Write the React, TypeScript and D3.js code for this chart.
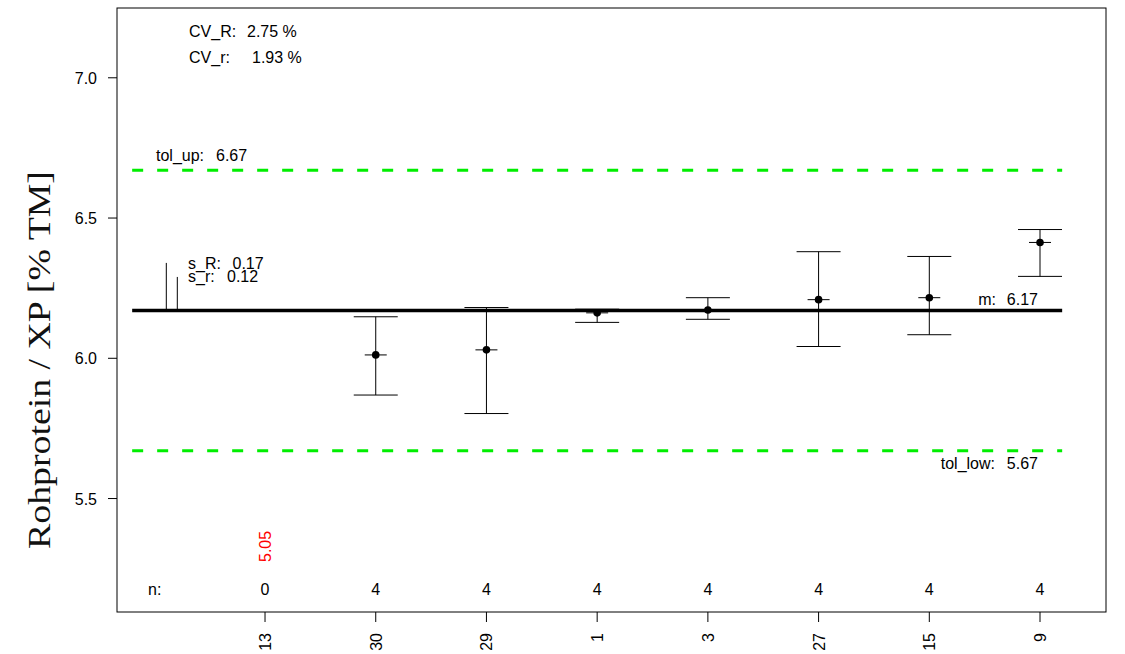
import React from "react";
import * as d3 from "d3";

// Laboratory codes in plotting order, with replicate counts and summary values
const labs = ["13", "30", "29", "1", "3", "27", "15", "9"];
const counts = [0, 4, 4, 4, 4, 4, 4, 4];
const labMeans = [NaN, 6.012, 6.03, 6.162, 6.172, 6.209, 6.216, 6.413];
const labUpper = [NaN, 6.148, 6.181, 6.175, 6.216, 6.38, 6.363, 6.459];
const labLower = [NaN, 5.869, 5.803, 6.128, 6.139, 6.042, 6.084, 6.292];
// values outside the drawn range are printed as text
const outliers = [{ lab: "13", value: 5.05 }];

const yTicks = [5.5, 6.0, 6.5, 7.0];
const meanValue = 6.17;
const tolUp = 6.67;
const tolLow = 5.67;
const sR = 0.17;
const sr = 0.12;
const cvR = 2.75;
const cvr = 1.93;

const W = 1125;
const H = 654;
const left = 117;
const right = 1106;
const top = 8;
const bottom = 612;

const font = "Liberation Sans, Arial, Helvetica, sans-serif";

export default function App() {
  // index 0 holds the "n:" column, labs start at index 1
  const x = d3.scaleLinear().domain([-0.337, 8.596]).range([left, right]);
  const y = d3.scaleLinear().domain([5.0955, 7.2488]).range([bottom, top]);

  const capHalf = 22;
  const tickHalf = 11;
  const lineStart = x(-0.2);
  const lineEnd = x(8.2);

  return (
    <svg
      width={W}
      height={H}
      style={{ position: "absolute", left: 0, top: 0, background: "#fff" }}
      fontFamily={font}
    >
      {/* tolerance limits */}
      {[tolUp, tolLow].map((v, i) => (
        <line
          key={i}
          x1={lineStart}
          x2={lineEnd}
          y1={y(v)}
          y2={y(v)}
          stroke="#00ee00"
          strokeWidth={3}
          strokeDasharray="11 14"
        />
      ))}

      {/* overall mean */}
      <line x1={lineStart} x2={lineEnd} y1={y(meanValue)} y2={y(meanValue)} stroke="#000" strokeWidth={3.5} />

      {/* reproducibility / repeatability bars */}
      <line x1={x(0) + 12} x2={x(0) + 12} y1={y(meanValue)} y2={y(meanValue + sR)} stroke="#000" strokeWidth={1} />
      <line x1={x(0) + 23} x2={x(0) + 23} y1={y(meanValue)} y2={y(meanValue + sr)} stroke="#000" strokeWidth={1} />
      <text x={188} y={y(meanValue + sR) + 6} fontSize={16}>
        s_R:
        <tspan x={232.5}>{sR.toFixed(2)}</tspan>
      </text>
      <text x={188} y={y(meanValue + sR) + 19} fontSize={16}>
        s_r:
        <tspan x={227}>{sr.toFixed(2)}</tspan>
      </text>

      {/* lab error bars */}
      {labs.map((lab, i) => {
        const cx = x(i + 1);
        if (!counts[i] || isNaN(labMeans[i])) return null;
        return (
          <g key={lab} stroke="#000" strokeWidth={1}>
            <line x1={cx} x2={cx} y1={y(labUpper[i])} y2={y(labLower[i])} />
            <line x1={cx - capHalf} x2={cx + capHalf} y1={y(labUpper[i])} y2={y(labUpper[i])} />
            <line x1={cx - capHalf} x2={cx + capHalf} y1={y(labLower[i])} y2={y(labLower[i])} />
            <line x1={cx - tickHalf} x2={cx + tickHalf} y1={y(labMeans[i])} y2={y(labMeans[i])} />
            <circle cx={cx} cy={y(labMeans[i])} r={3.8} fill="#000" stroke="none" />
          </g>
        );
      })}

      {/* out-of-range values */}
      {outliers.map((o) => {
        const cx = x(labs.indexOf(o.lab) + 1);
        return (
          <text
            key={o.lab}
            transform={`translate(${cx + 6},562) rotate(-90)`}
            fontSize={16}
            fill="#ff0000"
          >
            {o.value.toFixed(2)}
          </text>
        );
      })}

      {/* counts row */}
      <text x={148} y={595} fontSize={16}>n:</text>
      {labs.map((lab, i) => (
        <text key={lab} x={x(i + 1)} y={595} fontSize={16} textAnchor="middle">
          {counts[i]}
        </text>
      ))}

      {/* annotations */}
      <text x={189} y={37} fontSize={16}>
        CV_R:
        <tspan x={247}>{cvR.toFixed(2)} %</tspan>
      </text>
      <text x={189} y={63} fontSize={16}>
        CV_r:
        <tspan x={252}>{cvr.toFixed(2)} %</tspan>
      </text>
      <text x={156} y={y(tolUp) - 9} fontSize={16}>
        tol_up:
        <tspan x={216}>{tolUp.toFixed(2)}</tspan>
      </text>
      <text x={995} y={y(tolLow) + 18} fontSize={16} textAnchor="end">tol_low:</text>
      <text x={1038} y={y(tolLow) + 18} fontSize={16} textAnchor="end">{tolLow.toFixed(2)}</text>
      <text x={996} y={y(meanValue) - 6} fontSize={16} textAnchor="end">m:</text>
      <text x={1038} y={y(meanValue) - 6} fontSize={16} textAnchor="end">{meanValue.toFixed(2)}</text>

      {/* frame */}
      <rect x={left} y={top} width={right - left} height={bottom - top} fill="none" stroke="#000" strokeWidth={1} />

      {/* y axis */}
      {yTicks.map((t) => (
        <g key={t}>
          <line x1={left - 9} x2={left} y1={y(t)} y2={y(t)} stroke="#000" />
          <text x={97} y={y(t) + 6} fontSize={16} textAnchor="end">
            {t.toFixed(1)}
          </text>
        </g>
      ))}

      {/* x axis */}
      {labs.map((lab, i) => (
        <g key={lab}>
          <line x1={x(i + 1)} x2={x(i + 1)} y1={bottom} y2={bottom + 10} stroke="#000" />
          <text
            transform={`translate(${x(i + 1) + 6},633) rotate(-90)`}
            fontSize={16}
            textAnchor="end"
          >
            {lab}
          </text>
        </g>
      ))}

      <text
        transform={`translate(50,360) rotate(-90) scale(1.05,0.88)`}
        fontSize={36}
        textAnchor="middle"
        fontFamily="Liberation Serif, Times New Roman, serif"
        fill="#111"
      >
        Rohprotein / XP [% TM]
      </text>
    </svg>
  );
}
